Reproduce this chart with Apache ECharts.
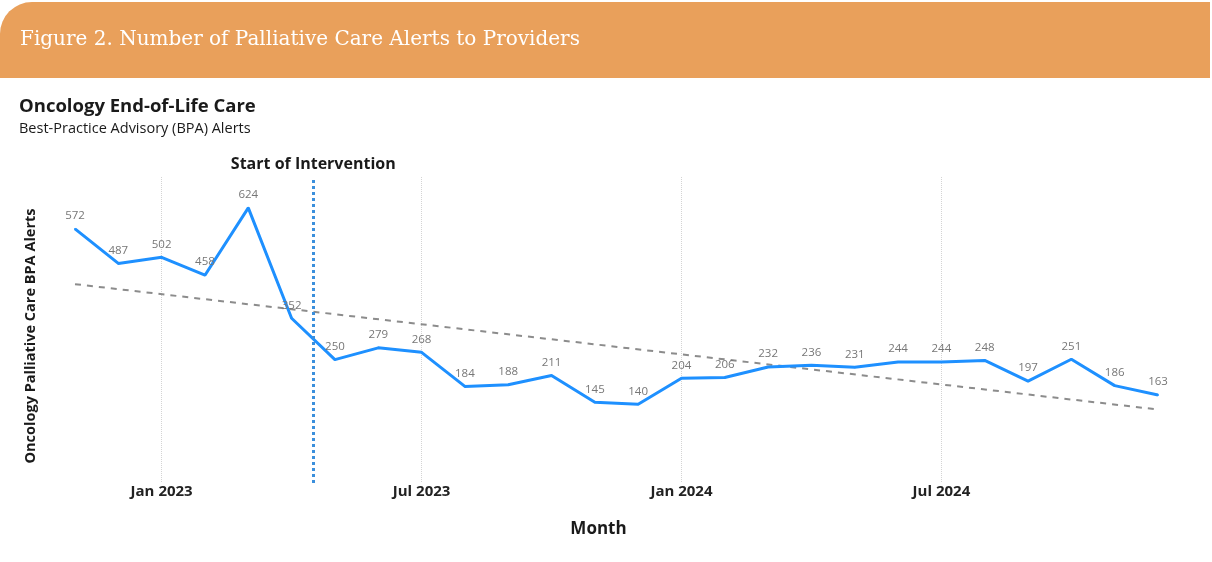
<!DOCTYPE html>
<html>
<head>
<meta charset="utf-8">
<script src="https://cdn.jsdelivr.net/npm/echarts@6/dist/echarts.min.js"></script>
<style>html,body{margin:0;padding:0;background:#fff}#c{width:1212px;height:562px}</style>
</head>
<body>
<div id="c"></div>
<script>
var months = ['Nov 2022','Dec 2022','Jan 2023','Feb 2023','Mar 2023','Apr 2023','May 2023','Jun 2023','Jul 2023','Aug 2023','Sep 2023','Oct 2023','Nov 2023','Dec 2023','Jan 2024','Feb 2024','Mar 2024','Apr 2024','May 2024','Jun 2024','Jul 2024','Aug 2024','Sep 2024','Oct 2024','Nov 2024','Dec 2024'];
var alerts = [572,487,502,458,624,352,250,279,268,184,188,211,145,140,204,206,232,236,231,244,244,248,197,251,186,163];
var trendEnds = [436,127];
var shownTicks = ['Jan 2023','Jul 2023','Jan 2024','Jul 2024'];
var interventionAt = 5.5;

var trend = months.map(function(m,i){ return i===0 ? trendEnds[0] : (i===months.length-1 ? trendEnds[1] : null); });

var chart = echarts.init(document.getElementById('c'));
chart.setOption({
  animation:false,
  graphic:[
    {type:'rect', shape:{x:0,y:2,width:1210,height:76,r:[32,0,0,0]}, style:{fill:'#E9A05B'}},
    {type:'text', left:20, top:30, style:{text:'Figure 2. Number of Palliative Care Alerts to Providers', fill:'#ffffff', font:'20px "DejaVu Serif"'}},
    {type:'text', left:19, top:97, style:{text:'Oncology End-of-Life Care', fill:'#1a1a1a', font:'bold 18.5px "Open Sans"'}},
    {type:'text', left:19, top:121, style:{text:'Best-Practice Advisory (BPA) Alerts', fill:'#1a1a1a', font:'14.5px "Open Sans"'}}
  ],
  grid:{left:75,right:54,top:177,bottom:79},
  xAxis:[{
    type:'category', data:months, boundaryGap:false,
    axisLine:{show:false}, axisTick:{show:false},
    axisLabel:{margin:1, color:'#222', fontFamily:'Open Sans', fontWeight:'bold', fontSize:15,
      interval:function(i,v){ return shownTicks.indexOf(v)>=0; }},
    splitLine:{show:true, interval:function(i,v){ return shownTicks.indexOf(v)>=0; }, lineStyle:{type:'dotted', color:'#d4d4d4', width:1}},
    name:'Month', nameLocation:'middle', nameGap:38,
    nameTextStyle:{color:'#1a1a1a', fontFamily:'Open Sans', fontWeight:'bold', fontSize:17, padding:[0,36,0,0]}
  },{
    type:'value', min:0, max:months.length-1, show:false
  }],
  yAxis:{
    type:'value', min:-54, max:700,
    axisLine:{show:false}, axisTick:{show:false}, axisLabel:{show:false}, splitLine:{show:false},
    name:'Oncology Palliative Care BPA Alerts', nameLocation:'middle', nameGap:37,
    nameTextStyle:{color:'#1a1a1a', fontFamily:'Open Sans', fontWeight:'bold', fontSize:14.5, padding:[0,12,0,0]}
  },
  series:[
    {type:'line', data:trend, connectNulls:true, symbol:'none', z:1,
     lineStyle:{color:'#8c8c8c', width:2, type:[6,6]}},
    {type:'line', data:alerts, symbol:'circle', symbolSize:2, showSymbol:true, z:3,
     itemStyle:{color:'#1E90FF', borderWidth:0},
     lineStyle:{color:'#1E90FF', width:3},
     label:{show:true, position:'top', distance:6, color:'#777', fontFamily:'Open Sans', fontSize:11.5}},
    {type:'line', xAxisIndex:1, data:[], symbol:'none',
     markLine:{silent:true, symbol:'none', animation:false,
       lineStyle:{type:'dotted', color:'#3b8fdc', width:3},
       label:{show:true, position:'end', distance:5, formatter:'Start of Intervention', color:'#1a1a1a', fontFamily:'Open Sans', fontWeight:'bold', fontSize:16},
       data:[{xAxis:interventionAt}]}
    }
  ]
});
</script>
</body>
</html>
